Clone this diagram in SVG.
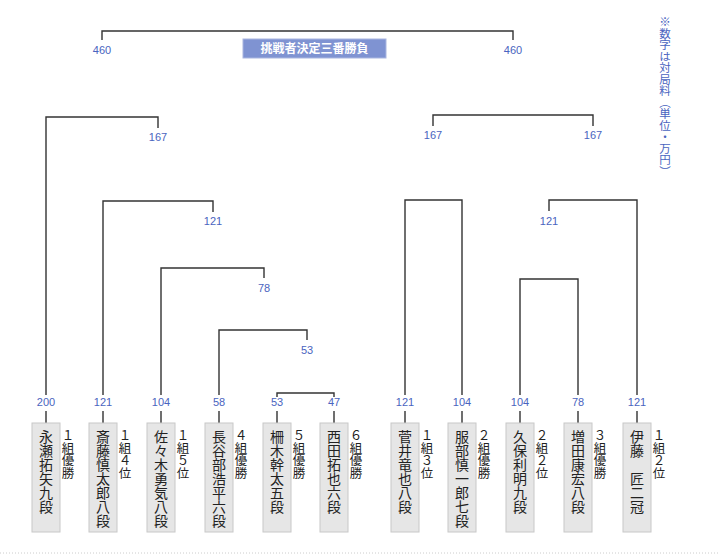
<svg xmlns="http://www.w3.org/2000/svg" width="720" height="556" viewBox="0 0 720 556">
<style>
.ln{fill:none;stroke:#333;stroke-width:1.4}
.num{font-family:"Liberation Sans",Arial,sans-serif;font-size:11px;fill:#4a64c0;text-anchor:middle}
.box{fill:#e6e6e6;stroke:#c8c8c8;stroke-width:1}
.nm{font-family:"Noto Sans CJK JP",sans-serif;font-size:14px;fill:#222;writing-mode:vertical-rl;text-orientation:upright}
.lb{font-family:"Noto Sans CJK JP",sans-serif;font-size:12.5px;fill:#222;writing-mode:vertical-rl;text-orientation:upright}
.note{font-family:"Noto Sans CJK JP",sans-serif;font-size:11.5px;fill:#4a64c0;writing-mode:vertical-rl}
</style>
<rect width="720" height="556" fill="#fff"/>
<g id="connectors">
<path class="ln" d="M102,40 V31 H513 V40"/>
<path class="ln" d="M46,395 V117 H158 V128"/>
<path class="ln" d="M103,395 V201 H213 V212"/>
<path class="ln" d="M161,395 V268 H264 V278"/>
<path class="ln" d="M219,395 V330 H307 V340"/>
<path class="ln" d="M277,397 V393 H334 V397"/>
<path class="ln" d="M433,126 V115 H593 V126"/>
<path class="ln" d="M405,395 V200 H462 V395"/>
<path class="ln" d="M549,211 V200 H637 V395"/>
<path class="ln" d="M520,395 V279 H578 V395"/>
<path class="ln" d="M46,411 V423 M103,411 V423 M161,411 V423 M219,411 V423 M277,411 V423 M334,411 V423 M405,411 V423 M462,411 V423 M520,411 V423 M578,411 V423 M637,411 V423"/>
</g>
<g id="title">
<rect x="243" y="39" width="143" height="19" fill="#7f93d2" stroke="#aab6e0" stroke-width="1"/>
<text x="314.5" y="53" font-family="'Noto Sans CJK JP',sans-serif" font-size="12" font-weight="bold" fill="#fff" text-anchor="middle">挑戦者決定三番勝負</text>
</g>
<g id="numbers">
<text class="num" x="102" y="54">460</text>
<text class="num" x="513" y="54">460</text>
<text class="num" x="158" y="141">167</text>
<text class="num" x="213" y="225">121</text>
<text class="num" x="264" y="292">78</text>
<text class="num" x="307" y="354">53</text>
<text class="num" x="433" y="139">167</text>
<text class="num" x="593" y="139">167</text>
<text class="num" x="549" y="225">121</text>
<text class="num" x="46" y="406">200</text>
<text class="num" x="103" y="406">121</text>
<text class="num" x="161" y="406">104</text>
<text class="num" x="219" y="406">58</text>
<text class="num" x="277" y="406">53</text>
<text class="num" x="334" y="406">47</text>
<text class="num" x="405" y="406">121</text>
<text class="num" x="462" y="406">104</text>
<text class="num" x="520" y="406">104</text>
<text class="num" x="578" y="406">78</text>
<text class="num" x="637" y="406">121</text>
</g>
<text class="note" x="665" y="16">※数字は対局料（単位・万円）</text>
<g id="p1"><rect class="box" x="32" y="423" width="28" height="109"/><text class="nm" x="46" y="430">永瀬拓矢九段</text><text class="lb" x="68" y="429">１組優勝</text></g>
<g id="p2"><rect class="box" x="89" y="423" width="28" height="109"/><text class="nm" x="103" y="430">斎藤慎太郎八段</text><text class="lb" x="125" y="429">１組４位</text></g>
<g id="p3"><rect class="box" x="147" y="423" width="28" height="109"/><text class="nm" x="161" y="430">佐々木勇気八段</text><text class="lb" x="183" y="429">１組５位</text></g>
<g id="p4"><rect class="box" x="205" y="423" width="28" height="109"/><text class="nm" x="219" y="430">長谷部浩平六段</text><text class="lb" x="241" y="429">４組優勝</text></g>
<g id="p5"><rect class="box" x="263" y="423" width="28" height="109"/><text class="nm" x="277" y="430">柵木幹太五段</text><text class="lb" x="299" y="429">５組優勝</text></g>
<g id="p6"><rect class="box" x="320" y="423" width="28" height="109"/><text class="nm" x="334" y="430">西田拓也六段</text><text class="lb" x="356" y="429">６組優勝</text></g>
<g id="p7"><rect class="box" x="391" y="423" width="28" height="109"/><text class="nm" x="405" y="430">菅井竜也八段</text><text class="lb" x="427" y="429">１組３位</text></g>
<g id="p8"><rect class="box" x="448" y="423" width="28" height="109"/><text class="nm" x="462" y="430">服部慎一郎七段</text><text class="lb" x="484" y="429">２組優勝</text></g>
<g id="p9"><rect class="box" x="506" y="423" width="28" height="109"/><text class="nm" x="520" y="430">久保利明九段</text><text class="lb" x="542" y="429">２組２位</text></g>
<g id="p10"><rect class="box" x="564" y="423" width="28" height="109"/><text class="nm" x="578" y="430">増田康宏八段</text><text class="lb" x="600" y="429">３組優勝</text></g>
<g id="p11"><rect class="box" x="623" y="423" width="28" height="109"/><text class="nm" x="637" y="430">伊藤　匠二冠</text><text class="lb" x="659" y="429">１組２位</text></g>
<line x1="0" y1="553" x2="720" y2="553" stroke="#ccc" stroke-width="1" stroke-dasharray="1,2"/>
</svg>
